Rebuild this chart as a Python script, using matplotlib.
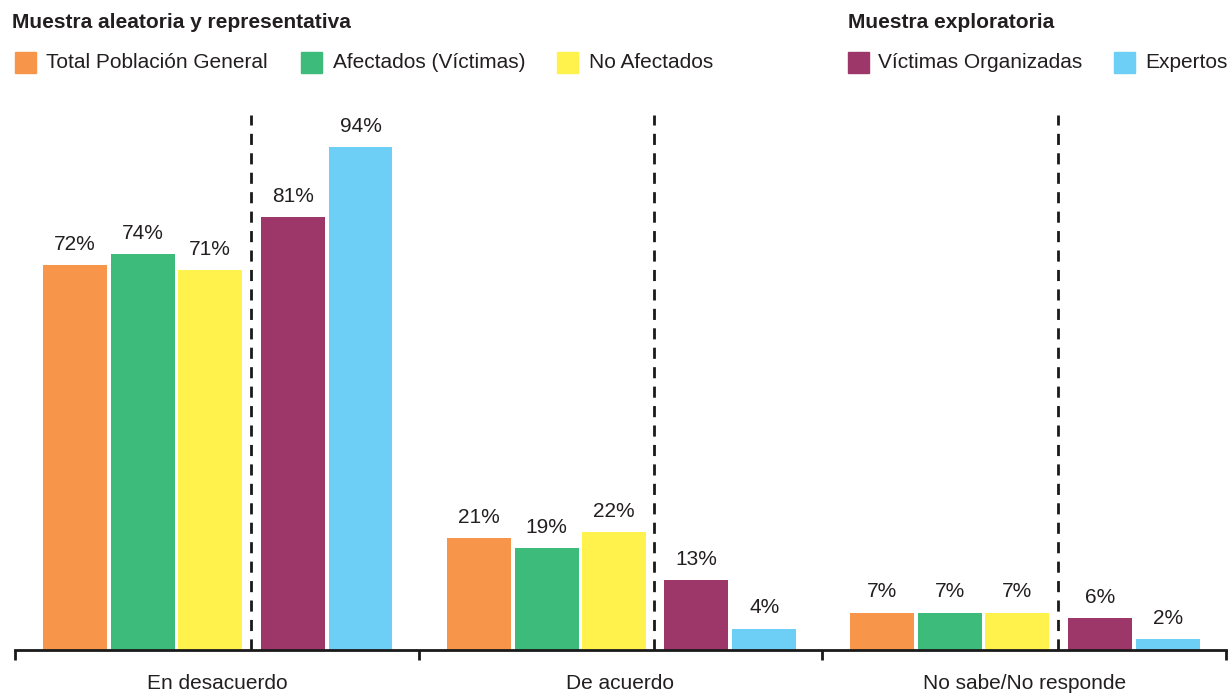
import matplotlib.pyplot as plt
from matplotlib.patches import Rectangle

plt.rcParams['font.family'] = ['Liberation Sans', 'DejaVu Sans']

categories = ["En desacuerdo", "De acuerdo", "No sabe/No responde"]
series = ["Total Población General", "Afectados (Víctimas)", "No Afectados",
          "Víctimas Organizadas", "Expertos"]
values = [
    [72, 21, 7],
    [74, 19, 7],
    [71, 22, 7],
    [81, 13, 6],
    [94, 4, 2],
]
colors = ["#F7964A", "#3DBB7A", "#FFF24C", "#9E3769", "#6DCFF6"]
group_titles = ["Muestra aleatoria y representativa", "Muestra exploratoria"]

txt = "#231F20"

fig = plt.figure(figsize=(12.3, 6.95), dpi=100)
ax = fig.add_axes([15 / 1230, 45 / 695, 1211 / 1230, 535 / 695])

# bar offsets inside each group (group width = 1)
offsets = [0.1485, 0.317, 0.483, 0.688, 0.856]
bw = 0.158
sep = 0.584

for j, name in enumerate(series):
    xs = [i + offsets[j] for i in range(len(categories))]
    bars = ax.bar(xs, values[j], width=bw, color=colors[j], label=name)
    for b, v in zip(bars, values[j]):
        ax.annotate(f"{v}%", (b.get_x() + b.get_width() / 2, b.get_height()),
                    xytext=(0, 8), textcoords="offset points",
                    ha="center", va="bottom", fontsize=15, color=txt)

for i in range(len(categories)):
    ax.plot([i + sep, i + sep], [0, 100], color="#1a1a1a", lw=2,
            linestyle=(0, (4, 3)))

ax.set_xlim(0, len(categories))
ax.set_ylim(0, 100)
for s in ["top", "right", "left"]:
    ax.spines[s].set_visible(False)
ax.spines["bottom"].set_linewidth(2)
ax.spines["bottom"].set_color("#1a1a1a")
ax.set_yticks([])
ax.set_xticks(range(len(categories) + 1))
ax.set_xticklabels([])
ax.tick_params(axis="x", which="major", direction="out", length=7, width=2,
               color="#1a1a1a")
ax.set_xticks([i + 0.5 for i in range(len(categories))], minor=True)
ax.set_xticklabels(categories, minor=True, fontsize=15, color=txt)
ax.tick_params(axis="x", which="minor", length=0, pad=17)

# legend, drawn by hand in two blocks
W, H = 1230, 695
fig.text(12 / W, 1 - 23 / H, group_titles[0], fontsize=15, fontweight="bold",
         color=txt, va="center", ha="left")
fig.text(848 / W, 1 - 23 / H, group_titles[1], fontsize=15, fontweight="bold",
         color=txt, va="center", ha="left")
sq_x = [15, 301, 557, 848, 1114]
tx_x = [46, 333, 589, 878, 1145]
for j, name in enumerate(series):
    fig.patches.append(Rectangle((sq_x[j] / W, 1 - 73 / H), 21 / W, 21 / H,
                                 transform=fig.transFigure, color=colors[j]))
    fig.text(tx_x[j] / W, 1 - 63 / H, name, fontsize=15, color=txt,
             va="center", ha="left")

fig.savefig("out.png", dpi=100)
